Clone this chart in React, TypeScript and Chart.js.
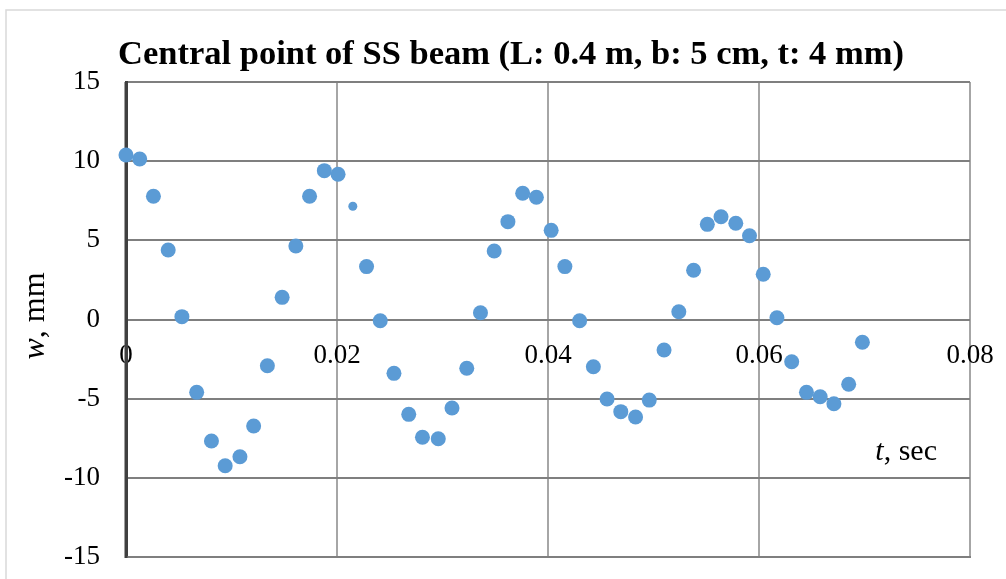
import { useEffect, useRef } from 'react';
import { Chart, registerables } from 'chart.js';

Chart.register(...registerables);

const chartTitle = 'Central point of SS beam (L: 0.4 m, b: 5 cm, t: 4 mm)';
const xTickLabels = ['0', '0.02', '0.04', '0.06', '0.08'];
const timeSec = [
  0, 0.0013, 0.0026, 0.004, 0.0053, 0.0067, 0.0081, 0.0094, 0.0108, 0.0121,
  0.0134, 0.0148, 0.0161, 0.0174, 0.0188, 0.0201, 0.0215, 0.0228, 0.0241, 0.0254,
  0.0268, 0.0281, 0.0296, 0.0309, 0.0323, 0.0336, 0.0349, 0.0362, 0.0376, 0.0389,
  0.0403, 0.0416, 0.043, 0.0443, 0.0456, 0.0469, 0.0483, 0.0496, 0.051, 0.0524,
  0.0538, 0.0551, 0.0564, 0.0578, 0.0591, 0.0604, 0.0617, 0.0631, 0.0645, 0.0658,
  0.0671, 0.0685, 0.0698,
];
const deflectionMm = [
  10.39, 10.14, 7.78, 4.39, 0.18, -4.6, -7.67, -9.24, -8.67, -6.73,
  -2.92, 1.4, 4.64, 7.78, 9.4, 9.17, 7.15, 3.34, -0.08, -3.4,
  -5.99, -7.44, -7.53, -5.59, -3.08, 0.43, 4.33, 6.18, 7.97, 7.72,
  5.63, 3.34, -0.08, -2.98, -5.02, -5.82, -6.16, -5.09, -1.93, 0.49,
  3.11, 6.01, 6.49, 6.08, 5.29, 2.86, 0.11, -2.67, -4.6, -4.88,
  -5.32, -4.09, -1.44,
];
const smallPointIndex = 16;

const SERIF = '"Liberation Serif", "Times New Roman", serif';

const decorPlugin = {
  id: 'decor',
  beforeDraw(chart: any) {
    const { ctx, width, height } = chart;
    ctx.save();
    ctx.fillStyle = '#ffffff';
    ctx.fillRect(0, 0, width, height);
    ctx.strokeStyle = '#d9d9d9';
    ctx.lineWidth = 1.5;
    ctx.strokeRect(6, 10, width + 10, height + 10);
    ctx.restore();
  },
  beforeDatasetsDraw(chart: any) {
    const { ctx, chartArea } = chart;
    ctx.save();
    ctx.strokeStyle = '#7f7f7f';
    ctx.lineWidth = 2;
    ctx.beginPath();
    ctx.moveTo(chartArea.left, chartArea.bottom);
    ctx.lineTo(chartArea.right + 1, chartArea.bottom);
    ctx.stroke();
    // redraw y axis line on top
    ctx.strokeStyle = '#404040';
    ctx.lineWidth = 3;
    ctx.beginPath();
    ctx.moveTo(chartArea.left, chartArea.top);
    ctx.lineTo(chartArea.left, chartArea.bottom + 1);
    ctx.stroke();
    ctx.restore();
  },
  afterDraw(chart: any) {
    const { ctx } = chart;
    ctx.save();
    ctx.fillStyle = '#000000';
    ctx.textBaseline = 'alphabetic';
    // title
    ctx.font = `bold 34.5px ${SERIF}`;
    ctx.textAlign = 'center';
    ctx.fillText(chartTitle, 511, 64);
    // y axis title
    ctx.save();
    ctx.translate(44, 316);
    ctx.rotate(-Math.PI / 2);
    ctx.textAlign = 'left';
    ctx.font = `italic 32px ${SERIF}`;
    const w1 = ctx.measureText('w').width;
    ctx.font = `32px ${SERIF}`;
    const w2 = ctx.measureText(', mm').width;
    const start = -(w1 + w2) / 2;
    ctx.font = `italic 32px ${SERIF}`;
    ctx.fillText('w', start, 0);
    ctx.font = `32px ${SERIF}`;
    ctx.fillText(', mm', start + w1, 0);
    ctx.restore();
    // x axis title
    ctx.textAlign = 'left';
    ctx.font = `30px ${SERIF}`;
    const s2 = ctx.measureText(', sec').width;
    ctx.font = `italic 30px ${SERIF}`;
    const s1 = ctx.measureText('t').width;
    const sx = 937 - s1 - s2;
    ctx.fillText('t', sx, 460);
    ctx.font = `30px ${SERIF}`;
    ctx.fillText(', sec', sx + s1, 460);
    ctx.restore();
  },
};

export default function App() {
  const ref = useRef<HTMLCanvasElement | null>(null);
  useEffect(() => {
    if (!ref.current) return;
    const chart = new Chart(ref.current, {
      type: 'scatter',
      data: {
        datasets: [
          {
            data: timeSec.map((t, i) => ({ x: t, y: deflectionMm[i] })),
            backgroundColor: '#5b9bd5',
            borderColor: '#5b9bd5',
            borderWidth: 0,
            clip: false as any,
            pointRadius: (c: any) => (c.dataIndex === smallPointIndex ? 4.5 : 7.5),
          },
        ],
      },
      options: {
        animation: false,
        responsive: false,
        devicePixelRatio: 1,
        layout: { padding: { top: 82, right: 36, bottom: 22, left: 0 } },
        plugins: { legend: { display: false }, tooltip: { enabled: false }, title: { display: false } },
        scales: {
          x: {
            type: 'linear',
            position: { y: 0 } as any,
            min: 0,
            max: 0.08,
            ticks: {
              stepSize: 0.02,
              autoSkip: false,
              maxRotation: 0,
              padding: 20,
              color: '#000000',
              font: { family: SERIF, size: 27 },
              callback: (_v: any, i: number) => xTickLabels[i],
            },
            grid: { color: '#a6a6a6', lineWidth: 2, drawTicks: false },
            border: { display: false },
            afterFit: (scale: any) => {
              scale.paddingLeft = 0;
              scale.paddingRight = 0;
              scale.paddingTop = 0;
              scale.paddingBottom = 0;
            },
          },
          y: {
            type: 'linear',
            min: -15,
            max: 15,
            ticks: {
              stepSize: 5,
              padding: 26,
              color: '#000000',
              font: { family: SERIF, size: 27 },
            },
            grid: { color: '#7f7f7f', lineWidth: 2, drawTicks: false },
            border: { display: true, color: '#404040', width: 3 },
            afterFit: (scale: any) => {
              scale.width = 126;
              scale.paddingTop = 0;
              scale.paddingBottom = 0;
              scale.paddingLeft = 0;
              scale.paddingRight = 0;
            },
          },
        },
      },
      plugins: [decorPlugin],
    });
    return () => chart.destroy();
  }, []);
  return (
    <div style={{ position: 'fixed', left: 0, top: 0, width: 1006, height: 579 }}>
      <canvas ref={ref} width={1006} height={579} style={{ display: 'block' }} />
    </div>
  );
}
